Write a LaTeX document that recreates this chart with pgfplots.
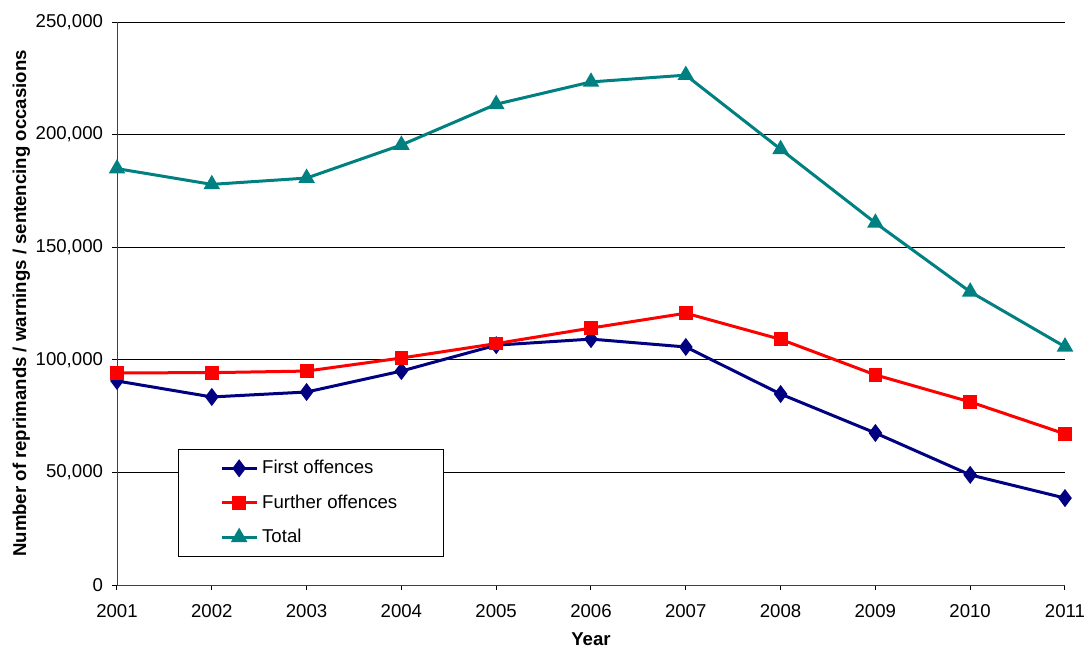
\documentclass[border=0pt]{standalone}
\usepackage{fontspec}
\setmainfont{Liberation Sans}
\usepackage{pgfplots}
\pgfplotsset{compat=1.18}
\usetikzlibrary{calc}
\definecolor{cfirst}{RGB}{0,0,128}
\definecolor{cfurther}{RGB}{255,0,0}
\definecolor{ctotal}{RGB}{0,128,128}

\begin{document}
\begin{tikzpicture}
\begin{axis}[
    scale only axis,
    width=474pt,
    height=281.5pt,
    xmin=2001, xmax=2011,
    ymin=0, ymax=250000,
    xtick={2001,...,2011},
    ytick={0,50000,100000,150000,200000,250000},
    axis lines=left,
    axis line style={-, draw=black!75},
    ymajorgrids,
    grid style={black, line width=0.5pt},
    tick align=outside,
    major tick length=2.5pt,
    tick style={black, line width=0.5pt},
    scaled y ticks=false,
    /pgf/number format/assume math mode=true,
    yticklabel style={/pgf/number format/fixed, /pgf/number format/1000 sep={,}, font=\fontsize{9.3}{11}\selectfont, xshift=-1pt},
    xticklabel style={/pgf/number format/1000 sep={}, font=\fontsize{9.3}{11}\selectfont, yshift=-3.5pt},
    xlabel={\textbf{Year}},
    ylabel={\textbf{Number of reprimands / warnings / sentencing occasions}},
    label style={font=\fontsize{9.3}{11}\selectfont},
    xlabel style={yshift=-1pt},
    ylabel style={yshift=-4pt},
    legend style={at={(rel axis cs:0.064,0.2416)}, anchor=north west,
        draw=black, fill=white, line width=0.5pt,
        font=\fontsize{9.3}{11}\selectfont,
        inner xsep=21pt, inner ysep=3.3pt, row sep=5pt,
        /tikz/every even column/.append style={column sep=0pt}},
    legend cell align=left,
    legend image code/.code={
        \draw[mark repeat=2,mark phase=2] plot coordinates {(0pt,0pt) (8.75pt,0pt) (17.5pt,0pt)};
    },
    every axis plot/.append style={line width=1.5pt, mark options={solid}},
]
\path (rel axis cs:0,0) coordinate (O);

\addplot[color=cfirst, mark=diamond*, mark size=3.3pt] coordinates {
    (2001, 90600) (2002, 83500) (2003, 85700) (2004, 95000) (2005, 106500)
    (2006, 109200) (2007, 105700) (2008, 84800) (2009, 67500) (2010, 48900) (2011, 38600)
};
\addlegendentry{First offences}

\addplot[color=cfurther, mark=square*, mark size=2.7pt] coordinates {
    (2001, 94200) (2002, 94300) (2003, 95000) (2004, 100800) (2005, 107200)
    (2006, 114100) (2007, 120700) (2008, 109100) (2009, 93300) (2010, 81300) (2011, 67100)
};
\addlegendentry{Further offences}

\addplot[color=ctotal, mark=triangle*, mark size=3.3pt] coordinates {
    (2001, 184900) (2002, 177900) (2003, 180700) (2004, 195400) (2005, 213500)
    (2006, 223400) (2007, 226400) (2008, 193500) (2009, 160800) (2010, 130200) (2011, 105800)
};
\addlegendentry{Total}
\end{axis}
\pgfresetboundingbox
\path[use as bounding box] ($(O)+(-58.5pt,-32.5pt)$) rectangle ($(O)+(484.5pt,292.5pt)$);
\end{tikzpicture}
\end{document}
